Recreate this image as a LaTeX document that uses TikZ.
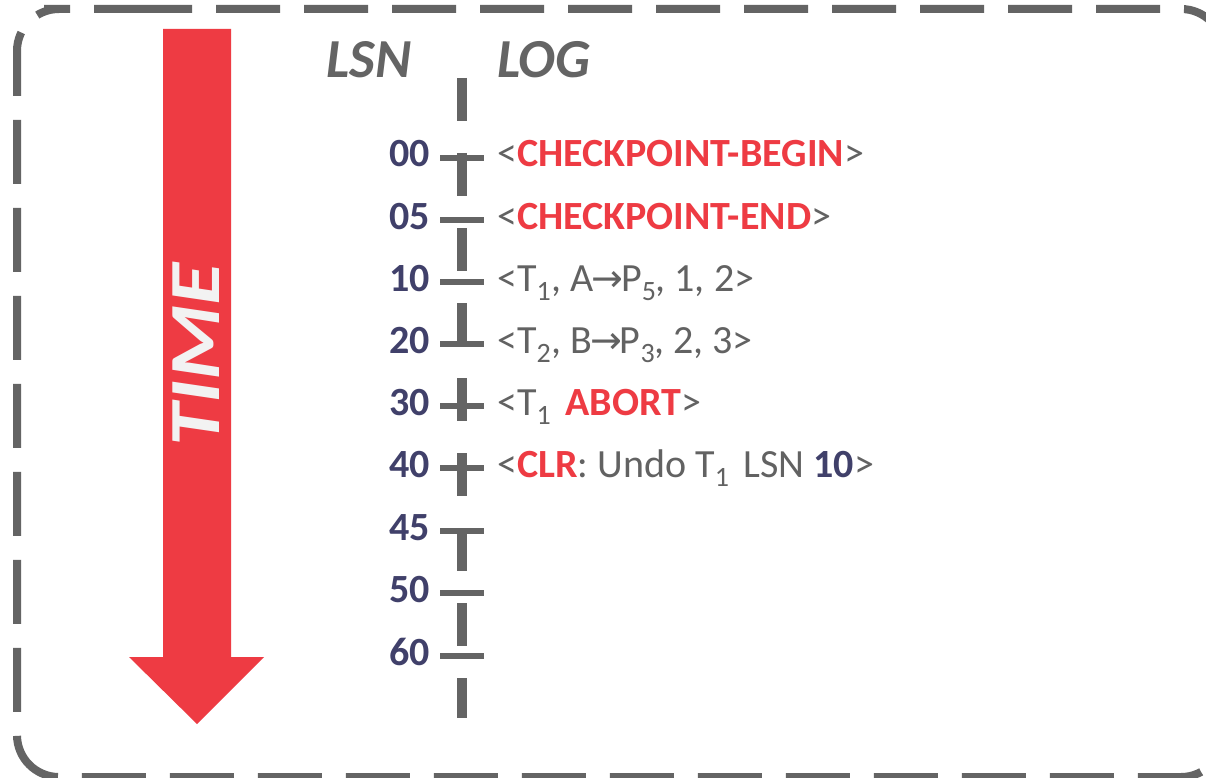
\documentclass[tikz,border=0pt]{standalone}
\usepackage{fontspec}
\setmainfont{Carlito}
\newfontfamily\arrowfont{DejaVu Sans}
\definecolor{tred}{HTML}{EE3B43}
\definecolor{tgray}{HTML}{626262}
\definecolor{tnavy}{HTML}{40406A}
\definecolor{tline}{HTML}{646464}
\definecolor{twhite}{HTML}{F2F2F2}
\newcommand{\rarr}{{\arrowfont\fontsize{38}{38}\selectfont\kern-2pt→\kern-2pt}}
\begin{document}
\begin{tikzpicture}[x=1pt,y=-1pt,
  frame/.style={draw=tline,line width=8,dash pattern=on 64 off 24,rounded corners=42},
  timeline/.style={draw=tline,line width=10,dash pattern=on 43 off 32},
  tickmark/.style={draw=tline,line width=5.5},
  lsnnum/.style={text=tnavy,font=\fontsize{40}{40}\selectfont\bfseries,anchor=base east,inner sep=0},
  logtxt/.style={text=tgray,font=\fontsize{40}{40}\selectfont,anchor=base west,inner sep=0},
  header/.style={text=tline,font=\fontsize{55}{55}\selectfont\bfseries\itshape,anchor=base west,inner sep=0}]
\useasboundingbox (0,0) rectangle (1206,778);
\clip (0,0) rectangle (1206,778);
\fill[white] (0,0) rectangle (1206,778);
% frame
\draw[frame] (86,9) -- (1223,9) -- (1223,777) -- (17,777) -- (17,9) -- cycle;
% time arrow
\fill[tred] (163,29) -- (231,29) -- (231,657) -- (264,657) -- (197,724) -- (129,657) -- (163,657) -- cycle;
\node[rotate=90,text=twhite,font=\fontsize{72}{72}\selectfont\bfseries\itshape,inner sep=0] (time) at (196,355) {\scalebox{1.2}[1]{TIME}};
% headers
\node[header] (hlsn) at (326,78) {LSN};
\node[header] (hlog) at (497,78) {LOG};
% timeline
\coordinate (ttop) at (462,78);
\coordinate (tbot) at (462,718);
\draw[timeline] (ttop) -- (tbot);
% ticks and LSNs
\foreach \n/\y in {00/158,05/220,10/282,20/344,30/406,40/468,45/531,50/593,60/656}{
  \draw[tickmark] (440,\y) -- (484,\y);
  \node[lsnnum] (lsn\n) at (430,\y+9) {\n};
}
% log records
\node[logtxt] (r00) at (497,167) {<\textcolor{tred}{\bfseries CHECKPOINT-BEGIN}>};
\node[logtxt] (r05) at (497,229) {<\textcolor{tred}{\bfseries CHECKPOINT-END}>};
\node[logtxt] (r10) at (497,291) {<T\textsubscript{1}, A\rarr P\textsubscript{5}\kern-1pt, 1, 2>};
\node[logtxt] (r20) at (497,353) {<T\textsubscript{2}, B\rarr P\textsubscript{3}\kern-1pt, 2, 3>};
\node[logtxt] (r30) at (497,415) {<T\textsubscript{1}\kern5pt\ \textcolor{tred}{\bfseries ABORT}>};
\node[logtxt] (r40) at (497,477) {<\textcolor{tred}{\bfseries CLR}: Undo T\textsubscript{1}\kern5pt\ LSN \textcolor{tnavy}{\bfseries 10}>};
\end{tikzpicture}
\end{document}
